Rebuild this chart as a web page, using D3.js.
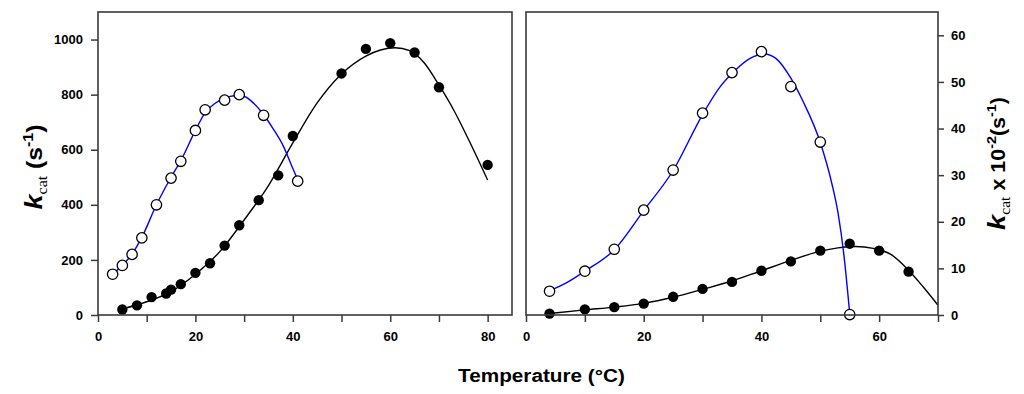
<!DOCTYPE html>
<html>
<head>
<meta charset="utf-8">
<script src="https://cdn.jsdelivr.net/npm/d3@7"></script>
<style>
  html, body { margin: 0; padding: 0; background: #fff; }
  svg { display: block; }
  text { font-family: "Liberation Sans", Arial, sans-serif; fill: #000; }
</style>
</head>
<body>
<svg id="chart" width="1024" height="394"></svg>
<script>
// ---------------- DATA ----------------
// Left panel (kcat, s^-1)
const leftOpenT   = [3, 5, 7, 9, 12, 15, 17, 20, 22, 26, 29, 34, 41];
const leftOpenK   = [148, 180, 220, 280, 400, 497, 558, 670, 745, 780, 800, 725, 486];
const leftFilledT = [5, 8, 11, 14, 15, 17, 20, 23, 26, 29, 33, 37, 40, 50, 55, 60, 65, 70, 80];
const leftFilledK = [20, 35, 65, 78, 92, 112, 153, 188, 252, 326, 417, 507, 650, 877, 966, 987, 953, 827, 545];
// fitted curves
const leftBlueFitT  = [3, 5, 7, 9, 12, 15, 17, 20, 22, 24, 26, 28, 30, 32, 34, 36, 38, 40, 41];
const leftBlueFitK  = [149, 180, 222, 282, 400, 500, 560, 670, 735, 768, 787, 796, 793, 768, 727, 675, 615, 532, 491];
const leftBlackFitT = [5, 10, 15, 20, 25, 30, 35, 40, 45, 50, 55, 58, 61, 64, 67, 70, 73, 76, 80];
const leftBlackFitK = [22, 48, 85, 148, 230, 345, 470, 625, 770, 875, 940, 962, 970, 960, 915, 835, 745, 640, 490];

// Right panel (kcat x 10^-2, s^-1)
const rightOpenT   = [4, 10, 15, 20, 25, 30, 35, 40, 45, 50, 55];
const rightOpenK   = [5.1, 9.4, 14.1, 22.5, 31.1, 43.3, 52.0, 56.5, 49.0, 37.1, 0.1];
const rightFilledT = [4, 10, 15, 20, 25, 30, 35, 40, 45, 50, 55, 60, 65];
const rightFilledK = [0.3, 1.2, 1.7, 2.45, 3.9, 5.6, 7.1, 9.5, 11.5, 13.8, 15.3, 13.8, 9.3];
const rightBlueFitT  = [4, 7, 10, 15, 20, 25, 30, 33, 35, 38, 40.5, 42.5, 45, 47, 50, 52, 53, 54, 55];
const rightBlueFitK  = [5.2, 7.0, 9.4, 14.0, 22.4, 31.0, 43.0, 49.0, 51.8, 55.0, 56.0, 55.0, 50.8, 46.0, 37.0, 28.0, 22.0, 13.0, 0.3];
const rightBlackFitT = [4, 10, 15, 20, 25, 30, 35, 40, 45, 50, 53, 56, 59, 62, 65, 67.5, 70];
const rightBlackFitK = [0.3, 1.1, 1.7, 2.5, 3.8, 5.5, 7.3, 9.5, 11.7, 13.7, 14.4, 14.7, 14.3, 13.0, 9.6, 6.0, 2.1];

// Tick values
const leftXMajor  = [0, 20, 40, 60, 80];
const leftXMinor  = [10, 30, 50, 70];
const leftYTicks  = [0, 200, 400, 600, 800, 1000];
const rightXMajor = [0, 20, 40, 60];
const rightXMinor = [10, 30, 50, 70];
const rightYTicks = [0, 10, 20, 30, 40, 50, 60];

const xTitle = "Temperature (°C)";

// ---------------- LAYOUT ----------------
const svg = d3.select("#chart");
const plotTop = 12, plotBottom = 315;
const frameColor = "#3a3a3a";

const xL = d3.scaleLinear().domain([0, 85]).range([98, 512]);
const yL = d3.scaleLinear().domain([0, 1100]).range([plotBottom, plotTop]);
const xR = d3.scaleLinear().domain([0, 70]).range([526, 938]);
const yR = d3.scaleLinear().domain([0, 65]).range([plotBottom, plotTop]);

function zip(a, b) { return a.map((v, i) => [v, b[i]]); }

function styleAxis(g) {
  g.select(".domain").remove();
  g.selectAll(".tick line").attr("stroke", frameColor).attr("stroke-width", 1.5);
  g.selectAll(".tick text")
    .style("font-family", '"Liberation Sans", Arial, sans-serif')
    .style("font-weight", "bold")
    .style("font-size", "13px")
    .attr("fill", "#000");
}

function panel(x, y, xMajor, xMinor, yTicks, ySide, curves, open, filled) {
  const g = svg.append("g");
  g.append("g").attr("transform", `translate(0,${plotBottom})`)
    .call(d3.axisBottom(x).tickValues(xMajor).tickSize(7).tickPadding(10).tickFormat(d3.format("d")))
    .call(styleAxis);
  g.append("g").attr("transform", `translate(0,${plotBottom})`)
    .call(d3.axisBottom(x).tickValues(xMinor).tickSize(7).tickFormat(""))
    .call(styleAxis);
  if (ySide === "left") {
    g.append("g").attr("transform", `translate(${x.range()[0]},0)`)
      .call(d3.axisLeft(y).tickValues(yTicks).tickSize(7).tickPadding(8).tickFormat(d3.format("d")))
      .call(styleAxis);
  } else {
    g.append("g").attr("transform", `translate(${x.range()[1]},0)`)
      .call(d3.axisRight(y).tickValues(yTicks).tickSize(6).tickPadding(7).tickFormat(d3.format("d")))
      .call(styleAxis);
  }
  const line = d3.line().x(d => x(d[0])).y(d => y(d[1])).curve(d3.curveMonotoneX);
  curves.forEach(c => {
    g.append("path").datum(c.data).attr("d", line)
      .attr("fill", "none").attr("stroke", c.color).attr("stroke-width", 1.4);
  });
  g.selectAll("circle.filled").data(filled).join("circle").attr("class", "filled")
    .attr("cx", d => x(d[0])).attr("cy", d => y(d[1])).attr("r", 5.2).attr("fill", "#000");
  g.selectAll("circle.open").data(open).join("circle").attr("class", "open")
    .attr("cx", d => x(d[0])).attr("cy", d => y(d[1])).attr("r", 5.2)
    .attr("fill", "#fff").attr("stroke", "#000").attr("stroke-width", 1.3);
  g.append("rect")
    .attr("x", x.range()[0]).attr("y", plotTop)
    .attr("width", x.range()[1] - x.range()[0]).attr("height", plotBottom - plotTop)
    .attr("fill", "none").attr("stroke", frameColor).attr("stroke-width", 1.6);
}

panel(xL, yL, leftXMajor, leftXMinor, leftYTicks, "left",
  [{ data: zip(leftBlackFitT, leftBlackFitK), color: "#000" },
   { data: zip(leftBlueFitT, leftBlueFitK), color: "#0000ff" }],
  zip(leftOpenT, leftOpenK), zip(leftFilledT, leftFilledK));

panel(xR, yR, rightXMajor, rightXMinor, rightYTicks, "right",
  [{ data: zip(rightBlackFitT, rightBlackFitK), color: "#000" },
   { data: zip(rightBlueFitT, rightBlueFitK), color: "#0000ff" }],
  zip(rightOpenT, rightOpenK), zip(rightFilledT, rightFilledK));

// ---------------- TITLES ----------------
function fitText(sel, target) {
  const w = sel.node().getComputedTextLength();
  return target / w;
}

const xt = svg.append("text").text(xTitle)
  .attr("text-anchor", "middle").style("font-weight", "bold").style("font-size", "18.5px");
const sx = fitText(xt, 167);
xt.attr("transform", `translate(541.5,381.5) scale(${sx},1)`);

function yTitle(parts, cx, cy, target) {
  const t = svg.append("text").attr("text-anchor", "middle");
  parts.forEach(p => {
    const ts = t.append("tspan").text(p.s)
      .style("font-size", p.size + "px")
      .style("font-weight", p.weight || "bold")
      .style("font-style", p.italic ? "italic" : "normal")
      .style("font-family", p.serif ? '"Liberation Serif", "Times New Roman", serif' : '"Liberation Sans", Arial, sans-serif');
    if (p.dy) ts.attr("dy", p.dy);
  });
  const s = fitText(t, target);
  t.attr("transform", `translate(${cx},${cy}) rotate(-90) scale(${s},1.08)`);
}

yTitle([
  { s: "k", size: 22, italic: true },
  { s: "cat", size: 13, serif: true, weight: "normal", dy: 5 },
  { s: "\u00a0(s", size: 20, dy: -5 },
  { s: "-1", size: 13, dy: -8 },
  { s: ")", size: 20, dy: 8 }
], 42, 167, 85);

yTitle([
  { s: "k", size: 23, italic: true },
  { s: "cat", size: 13, serif: true, weight: "normal", dy: 5 },
  { s: "\u00a0x 10", size: 18, dy: -5 },
  { s: "-2", size: 12, dy: -8 },
  { s: "(s", size: 18, dy: 8 },
  { s: "-1", size: 12, dy: -8 },
  { s: ")", size: 18, dy: 8 }
], 1005, 163.5, 133);
</script>
</body>
</html>
